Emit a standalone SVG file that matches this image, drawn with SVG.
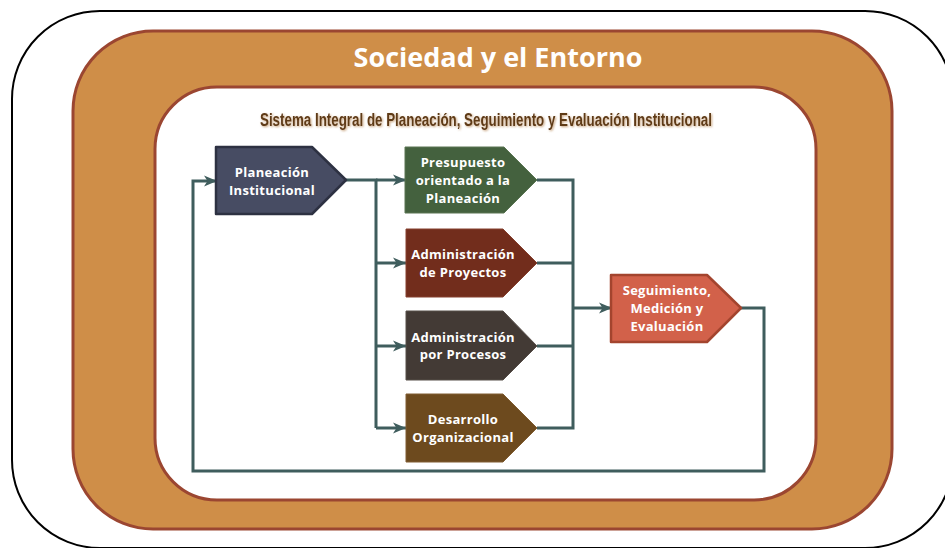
<svg xmlns="http://www.w3.org/2000/svg" width="945" height="548" viewBox="0 0 945 548">
<defs>
<style>
.node text{font-family:"Open Sans","DejaVu Sans",sans-serif;font-weight:bold;font-size:13px;fill:#ffffff;text-anchor:middle;letter-spacing:0.3px}
.conn path{fill:none;stroke:#3F5D5D;stroke-width:3;stroke-linejoin:miter}
</style>
<marker id="arr" markerUnits="userSpaceOnUse" markerWidth="14" markerHeight="12" refX="13" refY="6" orient="auto">
<path d="M0,0.5 L13,6 L0,11.5 L3.5,6 Z" fill="#3F5D5D"/>
</marker>
<filter id="glow" x="-5%" y="-40%" width="110%" height="180%">
<feGaussianBlur in="SourceAlpha" stdDeviation="1.2" result="b"/>
<feFlood flood-color="#B88A5A" flood-opacity="0.8"/>
<feComposite in2="b" operator="in" result="s"/>
<feOffset dx="0.5" dy="0.8" result="o"/>
<feMerge><feMergeNode in="o"/><feMergeNode in="SourceGraphic"/></feMerge>
</filter>
</defs>
<rect width="945" height="548" fill="#ffffff"/>
<g id="frame">
<rect x="12" y="11" width="941" height="537" rx="88" ry="88" fill="#ffffff" stroke="#000000" stroke-width="2"/>
<rect x="73" y="31" width="819" height="498" rx="80" ry="80" fill="#CF8E48" stroke="#9B4631" stroke-width="3"/>
<rect x="155" y="87" width="661" height="413" rx="62" ry="62" fill="#ffffff" stroke="#9B4631" stroke-width="3"/>
<text x="498" y="67" font-family="'Open Sans','DejaVu Sans',sans-serif" font-weight="bold" font-size="27" fill="#ffffff" text-anchor="middle">Sociedad y el Entorno</text>
<text x="260" y="126" font-family="'Liberation Sans',Arial,sans-serif" font-weight="bold" font-size="17.5" fill="#5E3A18" textLength="452" lengthAdjust="spacingAndGlyphs" filter="url(#glow)">Sistema Integral de Planeación, Seguimiento y Evaluación Institucional</text>
</g>
<g class="conn" id="connectors">
<path d="M346,180 H376 V428"/>
<path d="M376,180 H406" marker-end="url(#arr)"/>
<path d="M376,263 H406" marker-end="url(#arr)"/>
<path d="M376,346 H406" marker-end="url(#arr)"/>
<path d="M376,428 H406" marker-end="url(#arr)"/>
<path d="M537,180 H573 V428 H537"/>
<path d="M537,263 H573"/>
<path d="M537,346 H573"/>
<path d="M573,308 H612" marker-end="url(#arr)"/>
<path d="M741,308 H764 V471 H193 V181 H217" marker-end="url(#arr)"/>
</g>
<g class="node" id="n-planeacion">
<path d="M216,147 H312 L346,180 L312,214 H216 Z" fill="#474C63" stroke="#2D3142" stroke-width="2.5" stroke-linejoin="round"/>
<text x="272" y="177">Planeación</text>
<text x="272" y="195">Institucional</text>
</g>
<g class="node" id="n-presupuesto">
<path d="M405,147 H504 L537,180 L504,213 H405 Z" fill="#44613E" stroke="#5A7553" stroke-width="1" stroke-linejoin="round"/>
<text x="463" y="167">Presupuesto</text>
<text x="463" y="185">orientado a la</text>
<text x="463" y="203">Planeación</text>
</g>
<g class="node" id="n-proyectos">
<path d="M406,229 H503 L537,263 L503,297 H406 Z" fill="#722D1C" stroke="#86412F" stroke-width="1" stroke-linejoin="round"/>
<text x="463" y="259">Administración</text>
<text x="463" y="277">de Proyectos</text>
</g>
<g class="node" id="n-procesos">
<path d="M406,311 H503 L537,346 L503,380 H406 Z" fill="#433A35" stroke="#574E49" stroke-width="1" stroke-linejoin="round"/>
<text x="463" y="342">Administración</text>
<text x="463" y="359">por Procesos</text>
</g>
<g class="node" id="n-desarrollo">
<path d="M406,394 H503 L537,428 L503,462 H406 Z" fill="#6D4A1E" stroke="#805D32" stroke-width="1" stroke-linejoin="round"/>
<text x="463" y="424">Desarrollo</text>
<text x="463" y="442">Organizacional</text>
</g>
<g class="node" id="n-seguimiento">
<path d="M611,275 H707 L741,308 L707,342 H611 Z" fill="#D2614A" stroke="#A3442E" stroke-width="2.5" stroke-linejoin="round"/>
<text x="667" y="295">Seguimiento,</text>
<text x="667" y="313">Medición y</text>
<text x="667" y="331">Evaluación</text>
</g>
</svg>
